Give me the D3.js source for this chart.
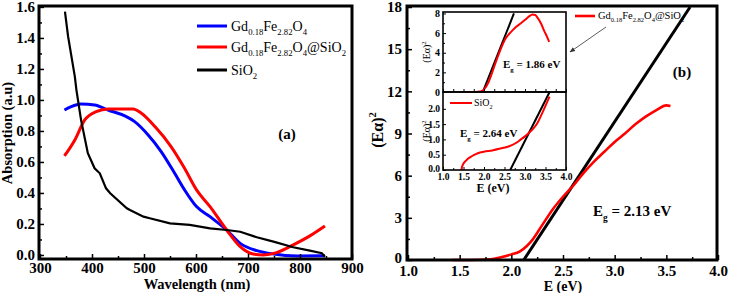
<!DOCTYPE html>
<html><head><meta charset="utf-8">
<script src="https://cdn.jsdelivr.net/npm/d3@7"></script>
<style>body{margin:0;background:#fff}svg{display:block}
svg text{font-family:'Liberation Serif','Times New Roman','DejaVu Serif',serif !important}</style>
</head><body>
<svg id="c" width="730" height="293"></svg>
<script>
// ---------- Panel (a) data ----------
const blueWl = [347,360,379,405,431,463,482,508,533,559,578,601,627,659,685,717,749,794,848];
const blueAbs = [0.935,0.957,0.974,0.968,0.935,0.897,0.86,0.774,0.667,0.527,0.42,0.312,0.247,0.161,0.075,0.028,0.006,-0.006,-0.005];
const redWl = [347,367,386,408,431,456,479,495,521,552,578,601,627,659,685,710,730,755,787,819,848];
const redAbs = [0.639,0.742,0.871,0.925,0.942,0.942,0.942,0.914,0.828,0.699,0.559,0.42,0.312,0.161,0.054,0.006,0.0,0.015,0.065,0.123,0.187];
const blackWl = [348,354,367,370,379,392,405,415,427,435,467,473,499,511,550,588,627,659,685,717,749,787,819,842,848];
const blackAbs = [1.57,1.41,1.15,1.065,0.87,0.656,0.559,0.527,0.43,0.398,0.301,0.29,0.247,0.237,0.204,0.194,0.172,0.161,0.15,0.114,0.086,0.05,0.028,0.011,-0.011];
const aXTicks = [300,400,500,600,700,800,900];
const aYTicks = [0.0,0.2,0.4,0.6,0.8,1.0,1.2,1.4,1.6];

// ---------- Panel (b) data ----------
const mainE = [1.43,1.6,1.8,1.9,2.0,2.08,2.15,2.2,2.3,2.4,2.5,2.6,2.7,2.8,2.9,3.0,3.1,3.2,3.3,3.4,3.5,3.54];
const mainY = [0,0,0.05,0.2,0.4,0.6,1.0,1.4,2.5,3.6,4.5,5.3,6.2,7.0,7.7,8.4,9.0,9.65,10.2,10.65,11.0,10.95];
const mainFitE = [2.12,3.73];
const mainFitY = [0,18];
const bXTicks = [1.0,1.5,2.0,2.5,3.0,3.5,4.0];
const bYTicks = [0,3,6,9,12,15,18];

// inset 1 (Gd0.18Fe2.82O4@SiO2)
const in1E = [1.42,1.6,1.8,1.9,1.95,2.0,2.1,2.2,2.3,2.4,2.52,2.6,2.7,2.8,2.9,3.0,3.1,3.18,3.25,3.3,3.4,3.47,3.53,3.59];
const in1Y = [0,0,0,0.05,0.1,0.25,0.9,2.0,3.2,4.3,5.4,5.85,6.3,6.7,7.0,7.35,7.7,7.9,7.85,7.6,6.9,6.2,5.7,5.1];
const in1FitE = [1.97,2.73];
const in1FitY = [0,8];
const in1YTicks = [0,2,4,6,8];
// inset 2 (SiO2)
const in2E = [1.45,1.46,1.48,1.52,1.6,1.7,1.8,1.9,2.0,2.2,2.4,2.6,2.8,2.9,3.0,3.1,3.2,3.3,3.4,3.5,3.6];
const in2Y = [0,0.08,0.16,0.25,0.36,0.45,0.52,0.57,0.6,0.64,0.7,0.77,0.9,1.0,1.1,1.22,1.35,1.53,1.8,2.1,2.4];
const in2FitE = [2.64,3.6];
const in2FitY = [0,2.55];
const inXTicks = [1.0,1.5,2.0,2.5,3.0,3.5,4.0];
const in2YTicks = [0.0,0.5,1.0,1.5,2.0];

const svg = d3.select('#c');
const SERIF = "'Liberation Serif','Times New Roman',serif";
svg.append('rect').attr('width',730).attr('height',293).attr('fill','#fff');

function rich(sel, parts, size){
  let shift = 0;
  parts.forEach(([t, sub]) => {
    const want = sub ? size*0.32 : 0;
    sel.append('tspan').attr('dy', (want-shift).toFixed(2))
      .attr('font-size', sub ? size*0.62 : size).text(t);
    shift = want;
  });
}
function styleAxis(g, fs){
  g.attr('font-family', SERIF);
  g.select('.domain').remove();
  g.selectAll('line').attr('stroke','#000').attr('stroke-width',1.5);
  g.selectAll('text').attr('font-family',SERIF).attr('font-weight','bold').attr('font-size',fs).attr('fill','#000');
}
function range(a,b,s){const r=[];for(let v=a;v<=b+1e-9;v+=s)r.push(+v.toFixed(4));return r;}

// ================= Panel (a) =================
const xA = d3.scaleLinear().domain([300,900]).range([40,352]);
const yA = d3.scaleLinear().domain([-0.026,1.606]).range([259,6]);
const gA = svg.append('g');
const lineA = d3.line().curve(d3.curveMonotoneX);
function drawA(xs, ys, color, w){
  gA.append('path').attr('d', lineA(xs.map((v,i)=>[xA(v), yA(ys[i])])))
    .attr('fill','none').attr('stroke',color).attr('stroke-width',w).attr('stroke-linejoin','round');
}
drawA(blueWl, blueAbs, '#0000ff', 3);
drawA(redWl, redAbs, '#ff0000', 3);
gA.append('path').attr('d', d3.line()(blackWl.map((v,i)=>[xA(v), yA(blackAbs[i])])))
  .attr('fill','none').attr('stroke','#000').attr('stroke-width',2.2);

styleAxis(gA.append('g').attr('transform','translate(0,259)')
  .call(d3.axisBottom(xA).tickValues(aXTicks).tickSize(-5).tickPadding(3).tickFormat(d3.format('d'))),15);
styleAxis(gA.append('g').attr('transform','translate(0,259)')
  .call(d3.axisBottom(xA).tickValues(range(350,850,100)).tickSize(-3).tickFormat('')),15);
styleAxis(gA.append('g').attr('transform','translate(39,0)')
  .call(d3.axisLeft(yA).tickValues(aYTicks).tickSize(-5).tickPadding(4).tickFormat(d3.format('.1f'))),15);
styleAxis(gA.append('g').attr('transform','translate(39,0)')
  .call(d3.axisLeft(yA).tickValues(range(0.1,1.5,0.2)).tickSize(-3).tickFormat('')),15);
gA.append('rect').attr('x',39).attr('y',6).attr('width',313).attr('height',253)
  .attr('fill','none').attr('stroke','#000').attr('stroke-width',3);

gA.append('text').attr('x',197).attr('y',289).attr('text-anchor','middle')
  .attr('font-family',SERIF).attr('font-weight','bold').attr('font-size',14.5).text('Wavelength (nm)');
gA.append('text').attr('transform','translate(12,133) rotate(-90)').attr('text-anchor','middle')
  .attr('font-family',SERIF).attr('font-weight','bold').attr('font-size',14.5).text('Absorption (a.u)');
gA.append('text').attr('x',287).attr('y',139).attr('text-anchor','middle')
  .attr('font-family',SERIF).attr('font-weight','bold').attr('font-size',15).text('(a)');

const legA = [
  ['#0000ff', [['Gd',0],['0.18',1],['Fe',0],['2.82',1],['O',0],['4',1]], 26],
  ['#ff0000', [['Gd',0],['0.18',1],['Fe',0],['2.82',1],['O',0],['4',1],['@SiO',0],['2',1]], 47],
  ['#000000', [['SiO',0],['2',1]], 70]
];
legA.forEach(([c, parts, y]) => {
  gA.append('line').attr('x1',197).attr('x2',227).attr('y1',y).attr('y2',y).attr('stroke',c).attr('stroke-width',3);
  const t = gA.append('text').attr('x',231).attr('y',y+5).attr('font-family',SERIF).attr('font-size',14);
  rich(t, parts, 14);
});

// ================= Panel (b) =================
const xB = d3.scaleLinear().domain([1,4]).range([408,718]);
const yB = d3.scaleLinear().domain([0,18]).range([260,7]);
const gB = svg.append('g');
gB.append('path').attr('d', d3.line()(mainFitE.map((v,i)=>[xB(v), yB(mainFitY[i])])))
  .attr('stroke','#000').attr('stroke-width',3).attr('fill','none');
gB.append('path').attr('d', d3.line().curve(d3.curveMonotoneX)(mainE.map((v,i)=>[xB(v), yB(mainY[i])])))
  .attr('stroke','#ff0000').attr('stroke-width',2.6).attr('fill','none');

styleAxis(gB.append('g').attr('transform','translate(0,260)')
  .call(d3.axisBottom(xB).tickValues(bXTicks).tickSize(-5).tickPadding(5).tickFormat(d3.format('.1f'))),15);
styleAxis(gB.append('g').attr('transform','translate(0,260)')
  .call(d3.axisBottom(xB).tickValues(range(1.25,3.75,0.5)).tickSize(-3).tickFormat('')),15);
const yAxB = gB.append('g').attr('transform','translate(407,0)')
  .call(d3.axisLeft(yB).tickValues(bYTicks).tickSize(-5).tickPadding(5).tickFormat(d3.format('d')));
styleAxis(yAxB,15);
yAxB.selectAll('text').filter(d => d === 0).attr('dy','0.15em');
styleAxis(gB.append('g').attr('transform','translate(407,0)')
  .call(d3.axisLeft(yB).tickValues(range(1.5,16.5,3)).tickSize(-3).tickFormat('')),15);
gB.append('rect').attr('x',407).attr('y',6).attr('width',310).attr('height',254)
  .attr('fill','none').attr('stroke','#000').attr('stroke-width',3);

gB.append('text').attr('x',563).attr('y',291).attr('text-anchor','middle')
  .attr('font-family',SERIF).attr('font-weight','bold').attr('font-size',14).text('E (eV)');
{
  const t = gB.append('text').attr('transform','translate(383,130) rotate(-90)').attr('text-anchor','middle')
    .attr('font-family',SERIF).attr('font-weight','bold').attr('font-size',16);
  t.append('tspan').text('(Eα)');
  t.append('tspan').attr('dy',-7).attr('font-size',10.5).text('2');
}
gB.append('text').attr('x',682).attr('y',77).attr('text-anchor','middle')
  .attr('font-family',SERIF).attr('font-weight','bold').attr('font-size',15).text('(b)');
{
  const t = gB.append('text').attr('x',593).attr('y',216).attr('font-family',SERIF).attr('font-weight','bold').attr('font-size',15);
  rich(t, [['E',0],['g',1],[' = 2.13 eV',0]], 15);
}
gB.append('line').attr('x1',575).attr('x2',595).attr('y1',16).attr('y2',16).attr('stroke','#ff0000').attr('stroke-width',2.6);
{
  const t = gB.append('text').attr('x',598).attr('y',19).attr('font-family',SERIF).attr('font-size',10.5);
  rich(t, [['Gd',0],['0.18',1],['Fe',0],['2.82',1],['O',0],['4',1],['@SiO',0],['2',1]], 10.5);
}
svg.append('defs').append('marker').attr('id','ah').attr('viewBox','0 0 10 10').attr('refX',9).attr('refY',5)
  .attr('markerWidth',7).attr('markerHeight',7).attr('orient','auto')
  .append('path').attr('d','M0,1 L10,5 L0,9 z').attr('fill','#333');
gB.append('line').attr('x1',606).attr('y1',27).attr('x2',570).attr('y2',52)
  .attr('stroke','#333').attr('stroke-width',0.8).attr('marker-end','url(#ah)');

// ----- insets -----
const xI = d3.scaleLinear().domain([1,4]).range([443,566]);
const yI1 = d3.scaleLinear().domain([0,8.15]).range([92,12]);
const yI2 = d3.scaleLinear().domain([0,2.55]).range([170,92]);
const gI = svg.append('g');
gI.append('rect').attr('x',443).attr('y',12).attr('width',123).attr('height',158).attr('fill','#fff');
gI.append('path').attr('d', d3.line()(in1FitE.map((v,i)=>[xI(v), yI1(in1FitY[i])])))
  .attr('stroke','#000').attr('stroke-width',2).attr('fill','none');
gI.append('path').attr('d', d3.line().curve(d3.curveMonotoneX)(in1E.map((v,i)=>[xI(v), yI1(in1Y[i])])))
  .attr('stroke','#ff0000').attr('stroke-width',2).attr('fill','none');
gI.append('path').attr('d', d3.line()(in2FitE.map((v,i)=>[xI(v), yI2(in2FitY[i])])))
  .attr('stroke','#000').attr('stroke-width',2).attr('fill','none');
gI.append('path').attr('d', d3.line().curve(d3.curveMonotoneX)(in2E.map((v,i)=>[xI(v), yI2(in2Y[i])])))
  .attr('stroke','#ff0000').attr('stroke-width',2).attr('fill','none');

styleAxis(gI.append('g').attr('transform','translate(0,92)')
  .call(d3.axisBottom(xI).tickValues(range(1,4,0.25)).tickSize(-3).tickFormat('')),10);
styleAxis(gI.append('g').attr('transform','translate(443,0)')
  .call(d3.axisLeft(yI1).tickValues(in1YTicks).tickSize(-3).tickPadding(3).tickFormat(d3.format('d'))),10);
styleAxis(gI.append('g').attr('transform','translate(443,0)')
  .call(d3.axisLeft(yI1).tickValues([1,3,5,7]).tickSize(-2).tickFormat('')),10);
styleAxis(gI.append('g').attr('transform','translate(0,170)')
  .call(d3.axisBottom(xI).tickValues(inXTicks).tickSize(-3).tickPadding(3).tickFormat(d3.format('.1f'))),9.5);
styleAxis(gI.append('g').attr('transform','translate(0,170)')
  .call(d3.axisBottom(xI).tickValues(range(1.25,3.75,0.5)).tickSize(-2).tickFormat('')),10);
const yAxI2 = gI.append('g').attr('transform','translate(443,0)')
  .call(d3.axisLeft(yI2).tickValues(in2YTicks).tickSize(-3).tickPadding(3).tickFormat(d3.format('.1f')));
styleAxis(yAxI2,9.5);
yAxI2.selectAll('text').filter(d => d === 0).attr('dy','0.15em');
gI.selectAll('line').attr('stroke-width',1);
gI.append('rect').attr('x',443).attr('y',12).attr('width',123).attr('height',80)
  .attr('fill','none').attr('stroke','#000').attr('stroke-width',1.6);
gI.append('rect').attr('x',443).attr('y',92).attr('width',123).attr('height',78)
  .attr('fill','none').attr('stroke','#000').attr('stroke-width',1.6);

gI.append('text').attr('x',493).attr('y',192).attr('text-anchor','middle')
  .attr('font-family',SERIF).attr('font-weight','bold').attr('font-size',12).text('E (eV)');
[[52],[131]].forEach(([cy]) => {
  const t = gI.append('text').attr('transform',`translate(430,${cy}) rotate(-90)`).attr('text-anchor','middle')
    .attr('font-family',SERIF).attr('font-size',10);
  t.append('tspan').text('(Eα)');
  t.append('tspan').attr('dy',-4).attr('font-size',6.5).text('2');
});
{
  const t = gI.append('text').attr('x',503).attr('y',68).attr('font-family',SERIF).attr('font-weight','bold').attr('font-size',11);
  rich(t, [['E',0],['g',1],[' = 1.86 eV',0]], 11);
  const t2 = gI.append('text').attr('x',460).attr('y',137).attr('font-family',SERIF).attr('font-weight','bold').attr('font-size',11);
  rich(t2, [['E',0],['g',1],[' = 2.64 eV',0]], 11);
}
gI.append('line').attr('x1',450).attr('x2',472).attr('y1',103).attr('y2',103).attr('stroke','#ff0000').attr('stroke-width',2);
{
  const t = gI.append('text').attr('x',474).attr('y',106).attr('font-family',SERIF).attr('font-size',10);
  rich(t, [['SiO',0],['2',1]], 10);
}
</script>
</body></html>
